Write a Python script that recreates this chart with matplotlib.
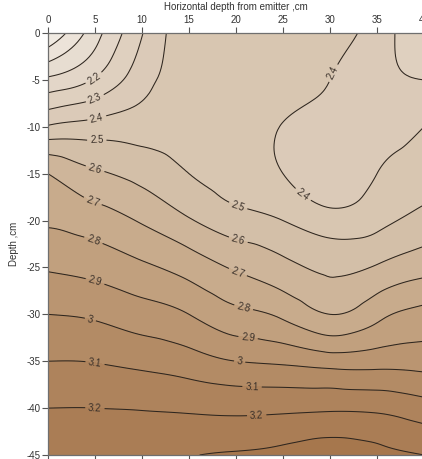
import numpy as np
import matplotlib.pyplot as plt
import matplotlib.tri as mtri
from matplotlib.colors import LinearSegmentedColormap

plt.rcParams["font.family"] = ["Liberation Sans", "DejaVu Sans"]
plt.rcParams["axes.unicode_minus"] = False

# horizontal distance from emitter (cm) and depth (cm)
dist = [0, 5, 10, 15, 20, 25, 30, 35, 40]
depth = [0, -5, -10, -15, -20, -25, -30, -35, -40, -45]

# soil water values, one row per depth
theta = [
    [1.80, 2.06, 2.295, 2.46, 2.46, 2.46, 2.45, 2.35, 2.22],
    [2.12, 2.21, 2.36, 2.45, 2.46, 2.45, 2.40, 2.33, 2.30],
    [2.41, 2.44, 2.454, 2.47, 2.47, 2.395, 2.37, 2.36, 2.40],
    [2.70, 2.615, 2.566, 2.50, 2.465, 2.40, 2.35, 2.40, 2.45],
    [2.79, 2.75, 2.69, 2.61, 2.54, 2.50, 2.44, 2.47, 2.535],
    [2.89, 2.865, 2.818, 2.76, 2.688, 2.63, 2.58, 2.61, 2.664],
    [3.00, 2.985, 2.945, 2.90, 2.827, 2.78, 2.70, 2.77, 2.83],
    [3.10, 3.096, 3.073, 3.043, 3.00, 2.983, 2.955, 2.96, 2.96],
    [3.20, 3.20, 3.195, 3.186, 3.176, 3.18, 3.186, 3.18, 3.143],
    [3.26, 3.26, 3.27, 3.295, 3.31, 3.33, 3.37, 3.33, 3.30],
]

levels = np.round(np.arange(1.7, 3.45, 0.1), 2)

# where the contour values are written
label_spots = [
    (4.8, -4.7), (5.0, -7.0), (5.2, -9.1), (5.2, -11.6), (5.0, -14.5),
    (4.8, -17.8), (4.8, -22.2), (5.0, -26.5), (4.5, -30.6), (5.0, -35.2),
    (5.0, -39.8),
    (31.8, -5.0), (27.0, -17.4), (20.4, -17.9), (20.2, -22.2), (20.2, -25.5),
    (20.8, -29.3), (21.3, -32.3), (20.4, -34.9), (21.7, -37.9), (22.2, -40.7),
]

X, Y = np.meshgrid(dist, depth)
Z = np.array(theta)
tri = mtri.Triangulation(X.ravel(), Y.ravel())
refiner = mtri.UniformTriRefiner(tri)
tri_f, z_f = refiner.refine_field(Z.ravel(), subdiv=4)

cmap = LinearSegmentedColormap.from_list(
    "soil",
    [(0.0, "#f6f3ef"), (0.35, "#ddcdbb"), (0.47, "#d6c3ae"),
     (0.59, "#cbb093"), (0.71, "#bd9a77"), (0.82, "#b08760"),
     (1.0, "#a4744a")])

fig = plt.figure(figsize=(4.22, 4.59), dpi=100)
ax = fig.add_axes([48 / 422, 4 / 459, 376 / 422, 422 / 459])

ax.tricontourf(tri_f, z_f, levels=levels, cmap=cmap, vmin=1.7, vmax=3.4)
cs = ax.tricontour(tri_f, z_f, levels=levels, colors="#2e261f", linewidths=0.75)
ax.clabel(cs, manual=label_spots, fmt=lambda v: f"{round(v, 1):g}",
          fontsize=7, colors="#3a3029", inline=True, inline_spacing=3)

ax.set_xlim(0, 40)
ax.set_ylim(-45, 0)
ax.set_xticks(range(0, 41, 5))
ax.set_yticks(range(-45, 1, 5))
ax.xaxis.set_label_position("top")
ax.tick_params(axis="x", top=True, bottom=True, labeltop=True, labelbottom=False)
ax.tick_params(direction="out", length=4, width=0.8, colors="#555555",
               labelsize=7, labelcolor="#333333", pad=1.5)
for side in ax.spines.values():
    side.set_color("#6f6f6f")
    side.set_linewidth(0.9)

ax.set_xlabel("Horizontal depth from emitter ,cm", fontsize=7, color="#333333", labelpad=4)
ax.set_ylabel("Depth ,cm", fontsize=7, color="#333333", labelpad=5)

fig.savefig("out.png", dpi=100)
